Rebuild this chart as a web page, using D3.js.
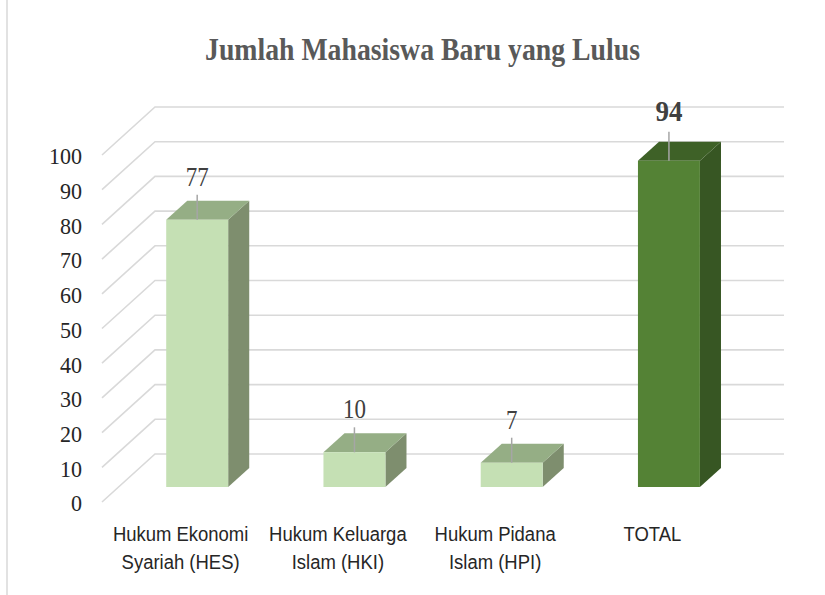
<!DOCTYPE html>
<html>
<head>
<meta charset="utf-8">
<script src="https://cdn.jsdelivr.net/npm/d3@7"></script>
<style>
  body { margin: 0; background: #fff; }
  svg { display: block; }
</style>
</head>
<body>
<div id="chart"></div>
<script>
// data
const categories = ["HES", "HKI", "HPI", "TOTAL"];
const categoryLines = [
  ["Hukum Ekonomi", "Syariah (HES)"],
  ["Hukum Keluarga", "Islam (HKI)"],
  ["Hukum Pidana", "Islam (HPI)"],
  ["TOTAL"]
];
const values = [77, 10, 7, 94];
const tickValues = [0, 10, 20, 30, 40, 50, 60, 70, 80, 90, 100];
const title = "Jumlah Mahasiswa Baru yang Lulus";

const W = 825, H = 595;

const svg = d3.select("#chart")
  .append("svg")
    .attr("width", W)
    .attr("height", H);

// 3D box: front plane scales, plus depth offset to the back wall
const depthX = 53, depthY = -48;

const x = d3.scaleBand()
  .domain(categories)
  .range([102, 731])
  .paddingInner(0.606)
  .paddingOuter(0.303);

const y = d3.scaleLinear()
  .domain([0, 100])
  .range([502, 155]);

// project (xFront, value, depth 0..1) to screen
const P = (px, v, d) => [px + d * depthX, y(v) + d * depthY];

// outer frame line on the left
svg.append("line")
  .attr("x1", 7).attr("x2", 7)
  .attr("y1", 0).attr("y2", H)
  .attr("stroke", "#d9d9d9")
  .attr("stroke-width", 1.5);

// title
svg.append("text")
  .attr("x", 422.5)
  .attr("y", 60)
  .attr("text-anchor", "middle")
  .attr("textLength", 435)
  .attr("lengthAdjust", "spacingAndGlyphs")
  .style("font-family", "'Liberation Serif', 'Times New Roman', serif")
  .style("font-weight", "bold")
  .style("font-size", "31px")
  .style("fill", "#595959")
  .text(title);

// gridlines: side wall diagonal + back wall horizontal
const grid = svg.append("g")
  .attr("stroke", "#d9d9d9")
  .attr("stroke-width", 1.6)
  .attr("fill", "none");

grid.selectAll("path")
  .data(tickValues)
  .join("path")
    .attr("d", v => {
      const a = P(102, v, 0), b = P(102, v, 1), c = P(731, v, 1);
      return `M${a}L${b}L${c}`;
    });

// y tick labels
svg.append("g")
  .selectAll("text")
  .data(tickValues)
  .join("text")
    .attr("transform", v => `translate(82,${y(v) + 1}) scale(0.92,1)`)
    .attr("text-anchor", "end")
    .attr("dominant-baseline", "central")
    .style("font-family", "'Liberation Serif', 'Times New Roman', serif")
    .style("font-size", "24px")
    .style("fill", "#262626")
    .text(v => v);

// bars
const d0 = 0.3125, d1 = 0.71;
const bw = x.bandwidth();
const colors = [
  {front: "#c5e0b4", top: "#95ae85", side: "#7e8e6e"},
  {front: "#c5e0b4", top: "#95ae85", side: "#7e8e6e"},
  {front: "#c5e0b4", top: "#95ae85", side: "#7e8e6e"},
  {front: "#548235", top: "#3e6127", side: "#375623"}
];

const barData = categories.map((c, i) => ({cat: c, value: values[i], col: colors[i]}));

const bars = svg.append("g")
  .selectAll("g")
  .data(barData)
  .join("g");

const poly = pts => "M" + pts.map(p => p.join(",")).join("L") + "Z";

// side face
bars.append("path")
  .attr("d", d => {
    const xr = x(d.cat) + bw;
    return poly([P(xr, 0, d0), P(xr, 0, d1), P(xr, d.value, d1), P(xr, d.value, d0)]);
  })
  .attr("fill", d => d.col.side);

// top face
bars.append("path")
  .attr("d", d => {
    const xl = x(d.cat), xr = xl + bw;
    return poly([P(xl, d.value, d0), P(xr, d.value, d0), P(xr, d.value, d1), P(xl, d.value, d1)]);
  })
  .attr("fill", d => d.col.top);

// front face
bars.append("path")
  .attr("d", d => {
    const xl = x(d.cat), xr = xl + bw;
    return poly([P(xl, 0, d0), P(xr, 0, d0), P(xr, d.value, d0), P(xl, d.value, d0)]);
  })
  .attr("fill", d => d.col.front);

// leader lines and value labels
bars.append("line")
  .attr("x1", d => P(x(d.cat) + bw / 2, d.value, d0)[0])
  .attr("x2", d => P(x(d.cat) + bw / 2, d.value, d0)[0])
  .attr("y1", d => P(0, d.value, d0)[1] - (d.cat === "TOTAL" ? 29 : 25))
  .attr("y2", d => P(0, d.value, d0)[1])
  .attr("stroke", "#a6a6a6")
  .attr("stroke-width", 1.5);

bars.append("text")
  .attr("transform", d => {
    const p = P(x(d.cat) + bw / 2, d.value, d0);
    const isTotal = d.cat === "TOTAL";
    return `translate(${p[0]},${p[1] - (isTotal ? 40 : 34)}) scale(${isTotal ? 0.9 : 0.82},1)`;
  })
  .attr("text-anchor", "middle")
  .style("font-family", "'Liberation Serif', 'Times New Roman', serif")
  .style("font-weight", d => d.cat === "TOTAL" ? "bold" : "normal")
  .style("font-size", d => d.cat === "TOTAL" ? "30px" : "28px")
  .style("fill", "#404040")
  .text(d => d.value);

// category labels on the front edge of the floor
const catLabels = svg.append("g")
  .selectAll("g")
  .data(categories)
  .join("g")
    .attr("transform", c => `translate(${x(c) + bw / 2},0)`);

catLabels.selectAll("text")
  .data((c, i) => categoryLines[i])
  .join("text")
    .attr("transform", (t, j) => `translate(0,${541 + j * 28}) scale(0.88,1)`)
    .attr("text-anchor", "middle")
    .style("font-family", "'Liberation Sans', Arial, sans-serif")
    .style("font-size", "21px")
    .style("fill", "#262626")
    .text(t => t);
</script>
</body>
</html>
